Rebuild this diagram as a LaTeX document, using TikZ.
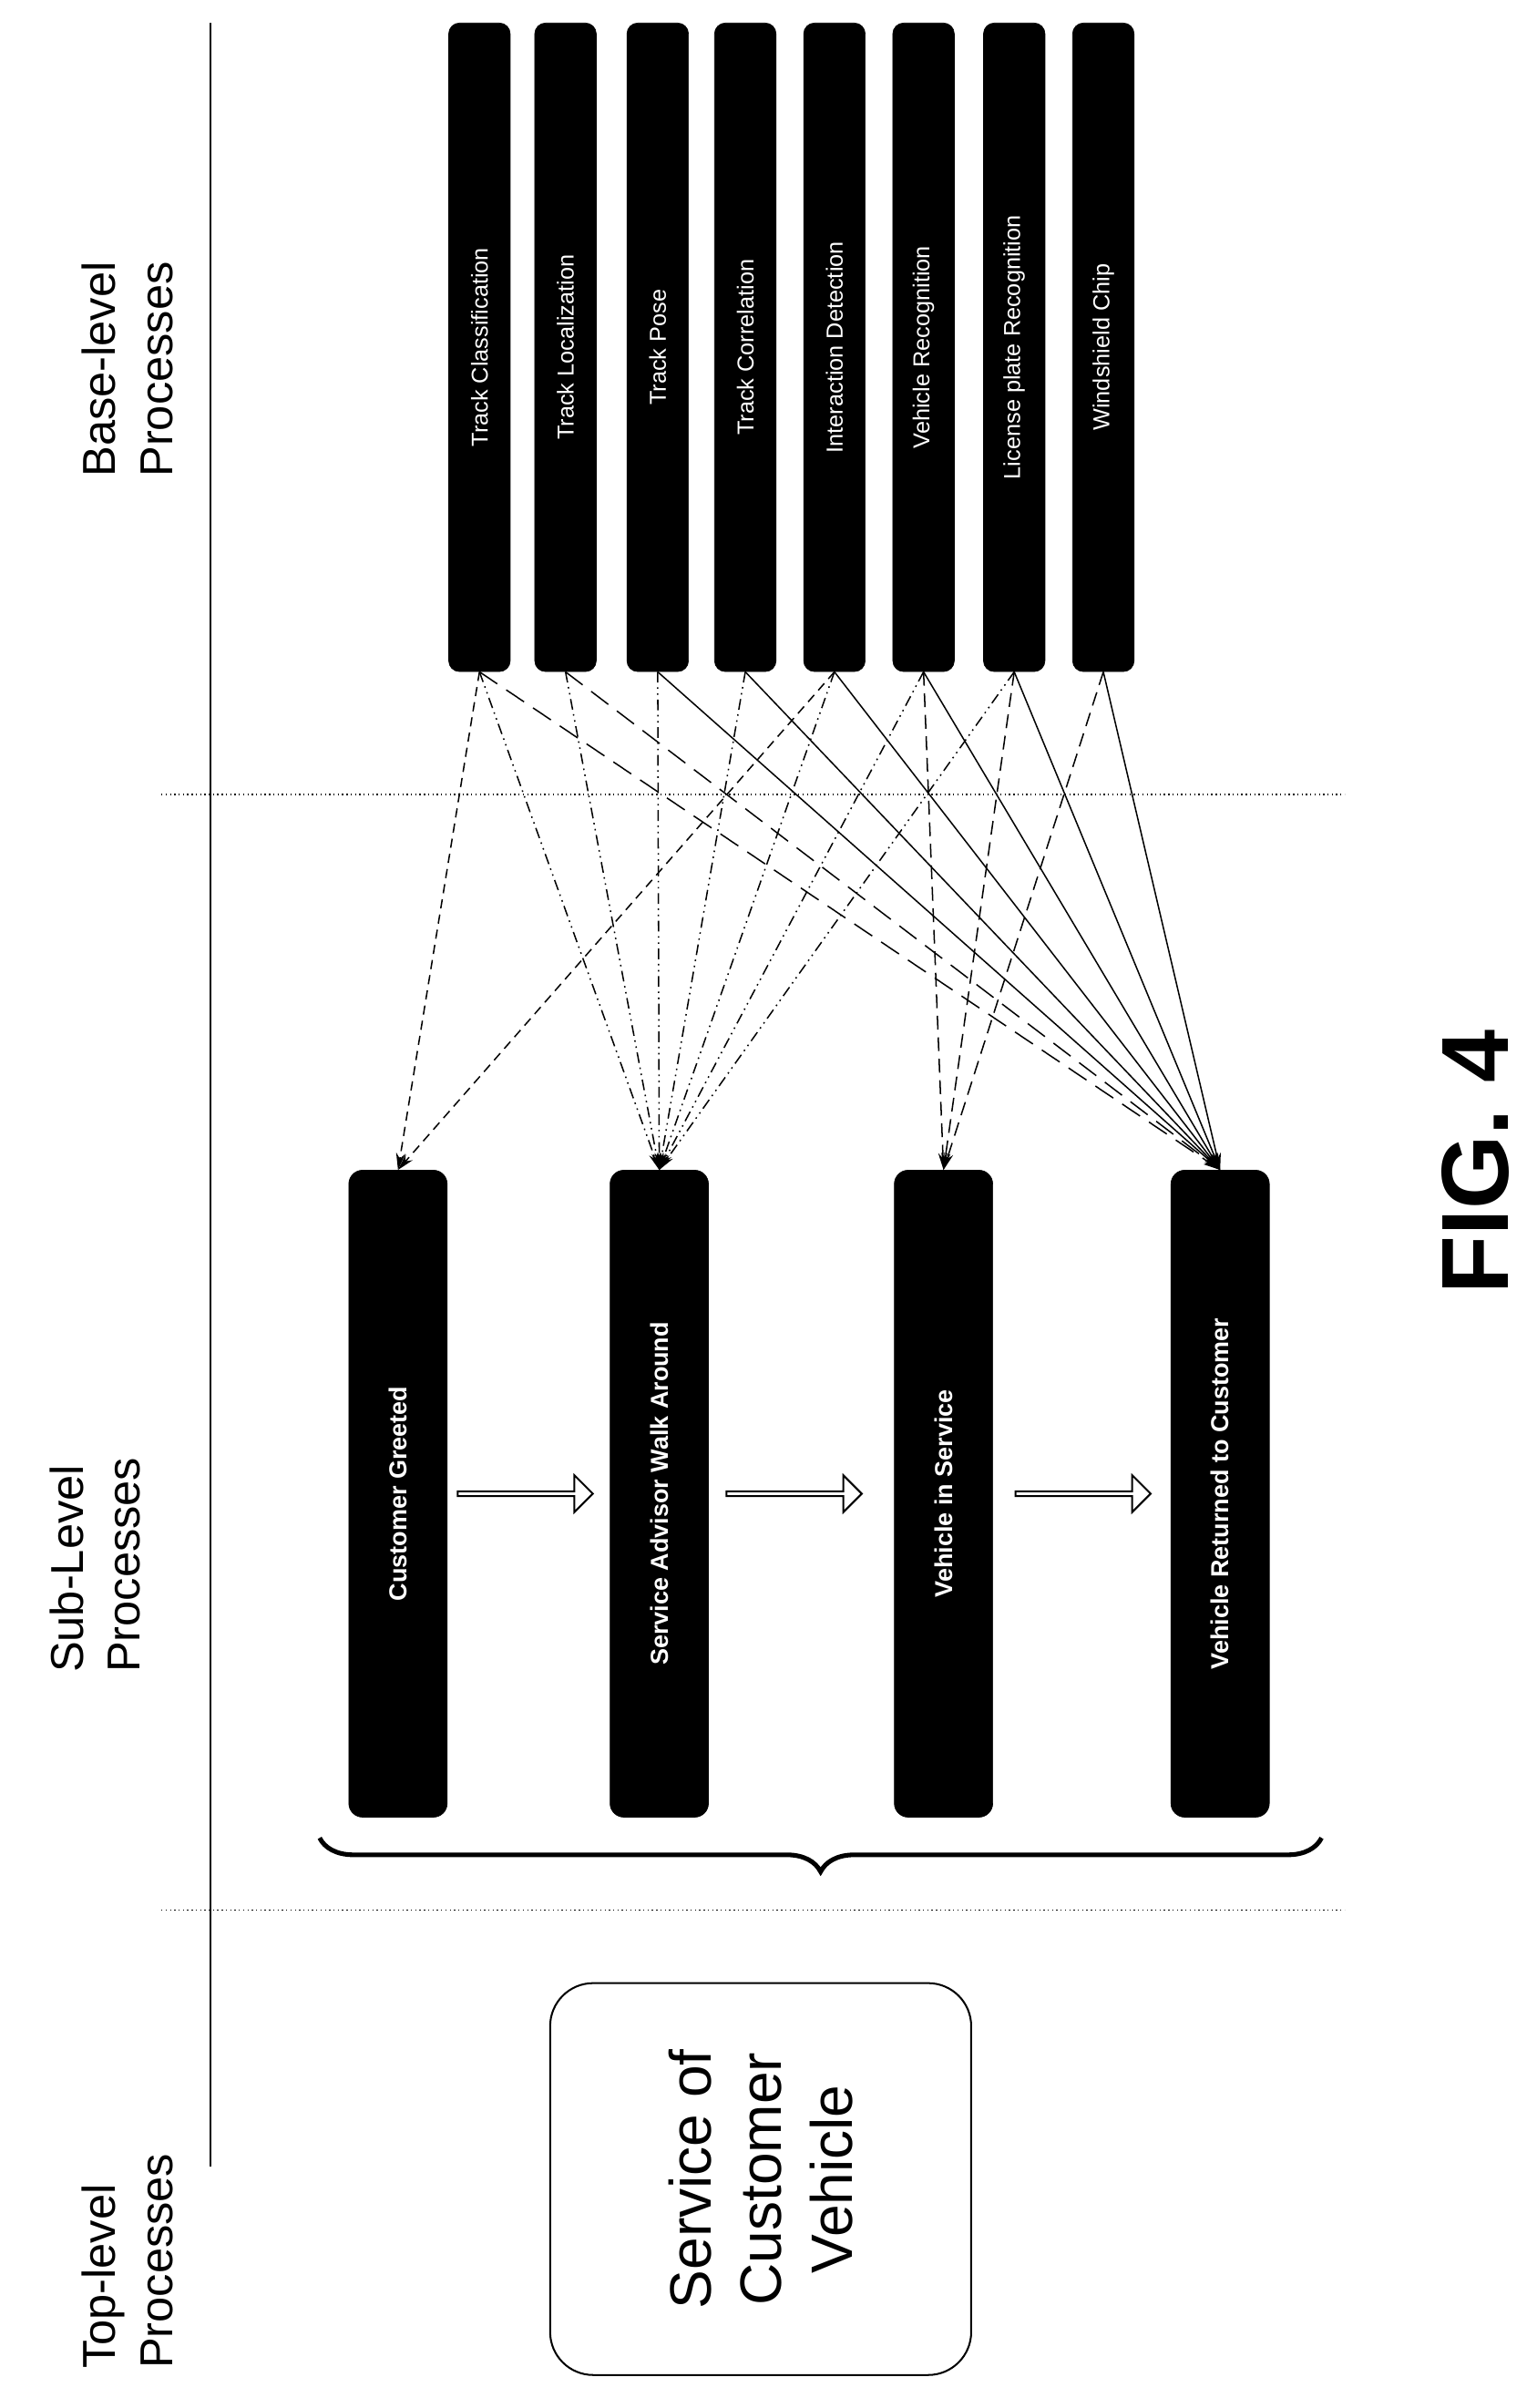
\documentclass[tikz,border=0pt]{standalone}
\usepackage{fontspec}
\setmainfont{Liberation Sans}
\usetikzlibrary{arrows.meta,shapes.arrows,decorations.pathreplacing}

\begin{document}
\begin{tikzpicture}[x=1pt,y=-1pt,
    base/.style={draw, fill=black, rounded corners=7pt, rotate=90, minimum width=422pt, minimum height=40pt, inner sep=0pt, text=white, font=\fontsize{15}{18}\selectfont},
    sub/.style={draw, fill=black, rounded corners=9pt, rotate=90, minimum width=421pt, minimum height=64pt, inner sep=0pt, text=white, font=\bfseries\fontsize{16}{19}\selectfont},
    flow/.style={single arrow, draw, fill=white, line width=1.2pt, minimum height=88pt, minimum width=24pt, single arrow head extend=4pt, inner sep=0pt},
    head/.style={rotate=90, anchor=west, align=left, font=\fontsize{30}{37}\selectfont},
    link/.style={-{Stealth[length=11pt,width=6pt]}, line width=0.9pt}]
    \useasboundingbox (0,0) rectangle (1000,1567);

    % separators
    \draw[line width=1pt] (137,15) -- (137,1410);
    \draw[dotted, line width=0.8pt] (105,517) -- (875,517);
    \draw[dotted, line width=0.8pt] (105,1243) -- (875,1243);

    % headings
    \node[head] (h-top) at (83,1545) {Top-level\\Processes};
    \node[head] (h-sub) at (62,1092) {Sub-Level\\Processes};
    \node[head] (h-base) at (83,314) {Base-level\\Processes};

    % base-level processes
    \foreach \i/\x/\t in {1/312/Track Classification, 2/368/Track Localization, 3/428/Track Pose/Orientation, 4/485/Track Correlation, 5/543/Interaction Detection, 6/601/Vehicle Recognition, 7/660/License plate Recognition, 8/718/Windshield Chip/Crack Detection}
        \node[base] (b\i) at (\x,226) {\t};

    % sub-level processes
    \node[sub] (s1) at (259,972) {Customer Greeted};
    \node[sub] (s2) at (429,972) {Service Advisor Walk Around};
    \node[sub] (s3) at (614,972) {Vehicle in Service};
    \node[sub] (s4) at (794,972) {Vehicle Returned to Customer};

    \node[flow] (a1) at (341,972) {};
    \node[flow] (a2) at (516,972) {};
    \node[flow] (a3) at (704,972) {};

    % links
    \foreach \i in {1,5}
        \draw[link, dash pattern=on 6pt off 4pt] (b\i.west) -- (s1.east);
    \foreach \i in {1,...,7}
        \draw[link, dash pattern=on 7pt off 3pt on 1pt off 3pt on 1pt off 3pt] (b\i.west) -- (s2.east);
    \foreach \i in {6,7,8}
        \draw[link, dash pattern=on 9pt off 5pt] (b\i.west) -- (s3.east);
    \foreach \i in {1,2}
        \draw[link, dash pattern=on 14pt off 7pt] (b\i.west) -- (s4.east);
    \foreach \i in {3,...,8}
        \draw[link] (b\i.west) -- (s4.east);

    % top level
    \draw[decorate, decoration={brace, amplitude=22pt, mirror}, line width=3pt] (208,1196) -- (860,1196);
    \node[draw, rounded corners=28pt, line width=1.2pt, rotate=90, minimum width=255pt, minimum height=274pt, align=center, font=\fontsize{38}{46}\selectfont] (top) at (495,1418) {Service of\\Customer\\Vehicle};

    \node[rotate=90, font=\bfseries\fontsize{62}{70}\selectfont] (fig) at (960,756) {FIG. 4};
\end{tikzpicture}
\end{document}
